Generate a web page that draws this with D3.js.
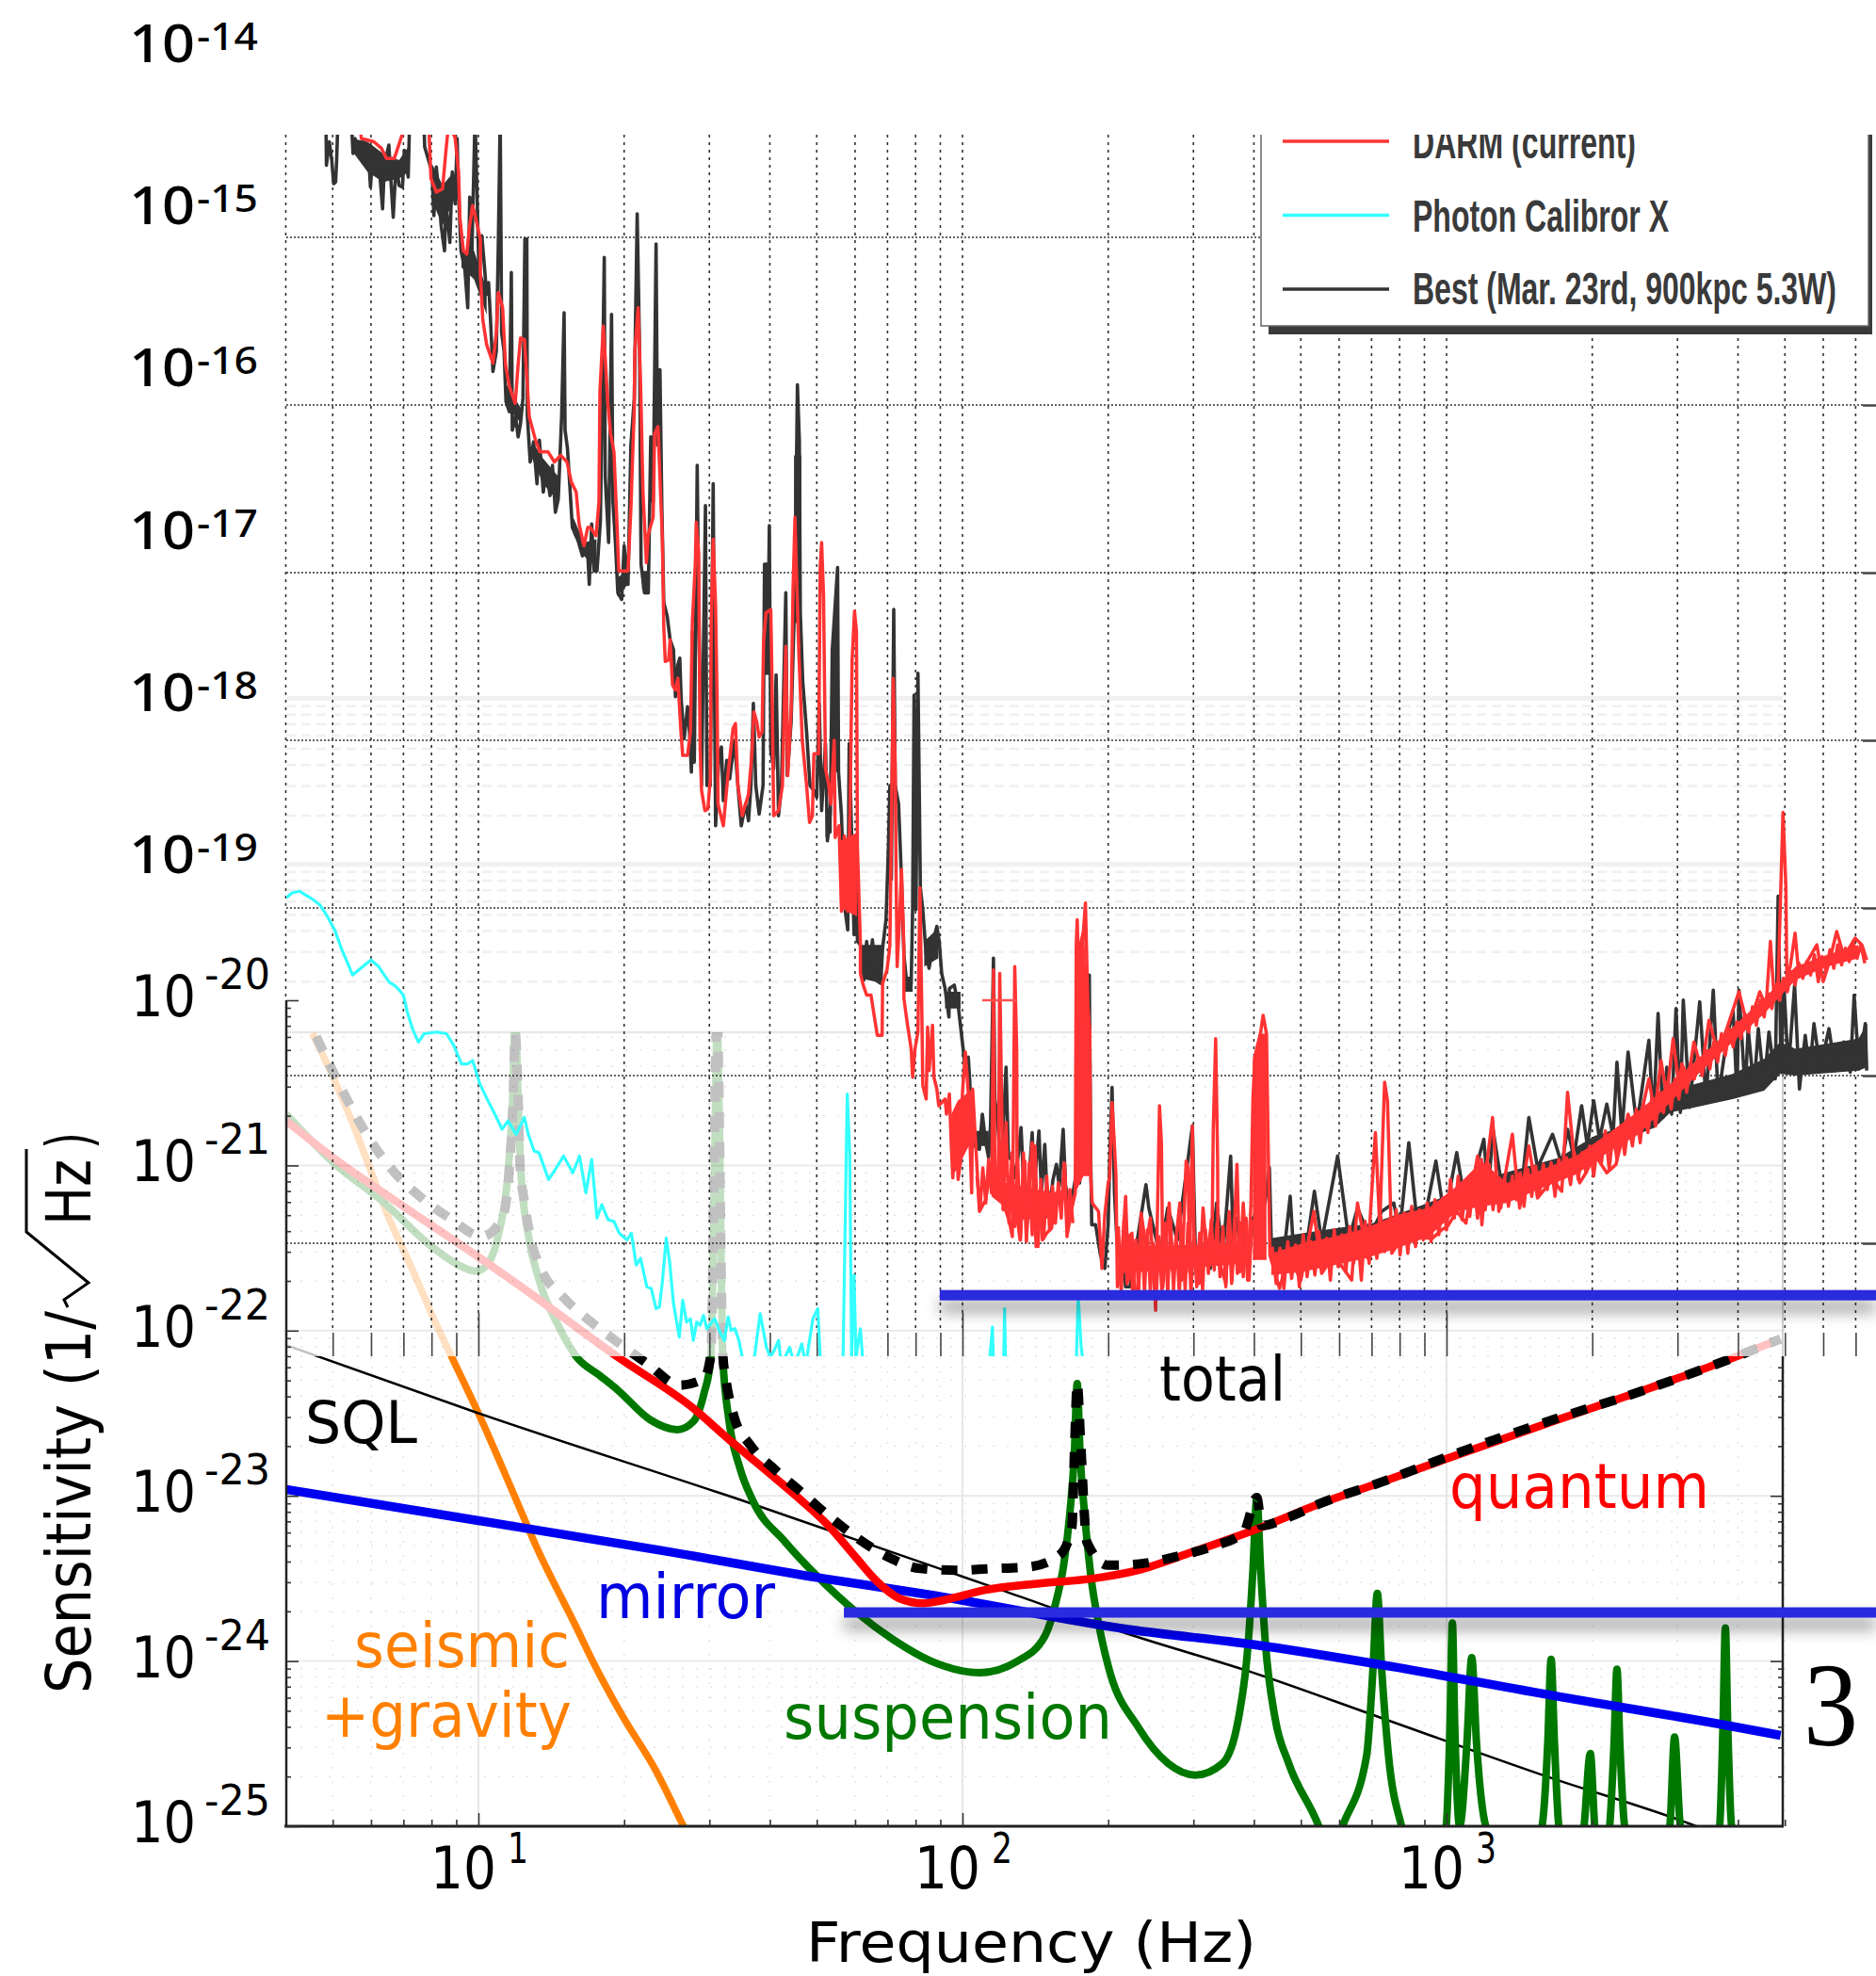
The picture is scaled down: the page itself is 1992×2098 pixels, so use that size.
<!DOCTYPE html>
<html><head><meta charset="utf-8">
<script src="https://cdn.jsdelivr.net/npm/d3@7"></script>
<style>html,body{margin:0;padding:0;background:#fff}svg{display:block}</style>
</head><body><div id="chart"></div>
<script>
// All trace rows are [log10 frequency in Hz, log10 amplitude].
const bestTrace=[[.685,-14.28],[.686,-14.57],[.692,-14.43],[.697,-14.54],[.701,-14.68],[.705,-14.67],[.707,-14.55],[.710,-14.28],[.737,-14.28],[.741,-14.50],[.745,-14.41],[.756,-14.51],[.761,-14.43],[.774,-14.56],[.777,-14.70],[.782,-14.49],[.787,-14.61],[.793,-14.50],[.802,-14.83],[.806,-14.56],[.815,-14.45],[.819,-14.65],[.824,-14.88],[.830,-14.56],[.836,-14.69],[.843,-14.70],[.847,-14.48],[.855,-14.64],[.858,-14.28],[.887,-14.28],[.889,-14.46],[.895,-14.52],[.904,-14.61],[.908,-14.87],[.913,-14.58],[.919,-14.76],[.923,-14.93],[.930,-15.08],[.933,-14.80],[.941,-15.03],[.946,-14.61],[.952,-14.80],[.956,-14.41],[.959,-14.74],[.964,-15.08],[.972,-15.19],[.978,-15.42],[.982,-14.76],[.986,-15.16],[.993,-14.28],[.996,-14.61],[1.001,-15.19],[1.007,-14.99],[1.012,-15.16],[1.017,-15.34],[1.021,-15.27],[1.025,-15.49],[1.030,-15.80],[1.037,-15.68],[1.041,-15.06],[1.045,-14.28],[1.048,-15.57],[1.053,-15.68],[1.057,-15.98],[1.064,-16.04],[1.068,-15.21],[1.070,-16.15],[1.077,-16.07],[1.082,-16.19],[1.087,-16.11],[1.092,-15.96],[1.096,-15.01],[1.100,-15.01],[1.101,-16.06],[1.107,-16.34],[1.114,-16.22],[1.121,-16.47],[1.126,-16.21],[1.134,-16.52],[1.140,-16.39],[1.148,-16.54],[1.153,-16.36],[1.159,-16.64],[1.165,-16.56],[1.172,-16.06],[1.177,-15.45],[1.179,-16.15],[1.184,-16.26],[1.189,-16.49],[1.194,-16.73],[1.205,-16.80],[1.215,-16.90],[1.225,-16.84],[1.229,-17.07],[1.234,-16.71],[1.239,-16.99],[1.245,-16.99],[1.252,-16.69],[1.260,-15.12],[1.262,-16.43],[1.269,-16.82],[1.275,-15.46],[1.278,-16.58],[1.283,-16.82],[1.288,-17.12],[1.296,-17.16],[1.301,-16.84],[1.309,-17.07],[1.315,-16.24],[1.322,-15.96],[1.328,-14.86],[1.333,-15.68],[1.336,-16.95],[1.343,-17.12],[1.351,-17.12],[1.356,-16.19],[1.361,-16.58],[1.367,-15.04],[1.370,-16.24],[1.375,-15.79],[1.379,-16.62],[1.383,-17.18],
[1.390,-17.26],[1.396,-17.40],[1.403,-17.46],[1.407,-17.74],[1.412,-17.55],[1.416,-17.51],[1.419,-17.76],[1.425,-17.99],[1.432,-17.80],[1.437,-17.99],[1.440,-18.19],[1.442,-17.35],[1.446,-18.13],[1.450,-16.95],[1.452,-16.36],[1.455,-17.20],[1.461,-18.27],[1.469,-16.60],[1.472,-18.27],[1.479,-18.27],[1.485,-16.47],[1.488,-17.80],[1.490,-18.51],[1.497,-18.08],[1.502,-18.04],[1.506,-18.36],[1.513,-18.12],[1.519,-18.23],[1.529,-18.00],[1.536,-18.27],[1.543,-18.51],[1.552,-18.38],[1.558,-18.48],[1.563,-18.27],[1.568,-17.78],[1.573,-18.27],[1.580,-18.44],[1.588,-18.27],[1.591,-16.95],[1.600,-16.95],[1.601,-16.72],[1.604,-18.06],[1.610,-18.17],[1.615,-17.61],[1.620,-18.45],[1.626,-18.27],[1.635,-17.12],[1.638,-18.21],[1.646,-17.89],[1.654,-17.09],[1.659,-15.88],[1.663,-16.21],[1.665,-17.24],[1.670,-17.65],[1.678,-17.95],[1.685,-18.27],[1.693,-18.30],[1.699,-18.34],[1.704,-17.78],[1.709,-18.42],[1.717,-18.02],[1.721,-18.60],[1.727,-18.43],[1.731,-17.46],[1.742,-16.97],[1.744,-18.19],[1.750,-18.45],[1.756,-18.98],[1.763,-19.13],[1.766,-18.02],[1.769,-18.34],[1.776,-19.16],[1.781,-18.64],[1.783,-19.20],
[1.789,-19.22],[1.796,-19.43],[1.802,-19.20],[1.808,-19.35],[1.814,-19.19],[1.821,-19.43],[1.831,-19.45],[1.835,-19.24],[1.842,-19.07],[1.847,-18.64],[1.850,-18.27],[1.853,-18.83],[1.858,-17.22],[1.861,-18.27],[1.868,-18.38],[1.874,-18.83],[1.879,-19.28],[1.886,-19.48],[1.894,-19.45],[1.897,-19.01],[1.900,-17.73],[1.904,-19.01],[1.908,-17.60],[1.913,-18.88],[1.918,-19.01],[1.925,-19.28],[1.931,-19.36],[1.941,-19.18],[1.947,-19.11],[1.952,-19.20],[1.957,-19.39],[1.964,-19.48],[1.972,-19.65],[1.973,-19.48],[1.983,-19.46],[1.991,-19.58],[1.997,-19.73],[2.004,-19.91],[2.012,-19.89],[2.015,-20.03],[2.019,-20.33],[2.025,-20.42],[2.035,-20.44],[2.041,-20.23],[2.048,-20.40],[2.054,-20.49],[2.058,-20.29],[2.064,-19.30],[2.067,-20.14],[2.074,-20.33],[2.080,-20.57],[2.090,-19.95],[2.095,-20.48],[2.103,-20.51],[2.110,-20.61],[2.121,-20.31],[2.126,-20.62],[2.134,-20.76],[2.144,-20.34],[2.148,-20.66],[2.158,-20.33],[2.163,-20.70],[2.170,-20.41],[2.174,-20.66],[2.181,-20.76],[2.187,-20.62],[2.194,-20.53],[2.200,-20.66],[2.208,-20.32],[2.213,-20.66],[2.223,-20.79],[2.233,-20.62],[2.236,-20.53],[2.242,-20.64],[2.244,-19.30],[2.252,-19.95],[2.257,-19.69],[2.262,-19.40],[2.265,-20.51],[2.267,-20.89],[2.275,-20.89],[2.285,-21.07],[2.294,-21.15],[2.301,-20.89],[2.304,-20.51],[2.309,-20.07],[2.314,-20.70],[2.319,-20.98],[2.324,-21.07],[2.330,-21.04],[2.337,-21.26],[2.346,-21.26],[2.379,-20.65],[2.385,-20.79],[2.408,-21.07],[2.424,-20.79],[2.444,-20.98],[2.475,-20.30],[2.482,-21.17],[2.502,-21.11],[2.512,-21.15],[2.525,-20.76],[2.538,-21.07],[2.554,-20.48],[2.560,-21.07],[2.567,-20.85],[2.593,-21.07],[2.600,-20.85],[2.625,-20.76],[2.634,-20.55],[2.638,-21.00],[2.651,-21.04],[2.664,-21.06],[2.677,-20.72],[2.683,-21.00],[2.696,-21.02],
[2.711,-21.01],[2.727,-20.69],[2.742,-20.99],[2.775,-20.48],[2.798,-20.98],[2.816,-20.79],[2.841,-20.96],[2.866,-20.81],[2.891,-20.76],[2.903,-20.94],[2.922,-20.40],[2.940,-20.90],[2.959,-20.79],[2.978,-20.51],[2.996,-20.85],[3.021,-20.46],[3.040,-20.79],[3.058,-20.58],[3.077,-20.38],[3.086,-20.70],[3.096,-20.32],[3.114,-20.66],[3.139,-20.58],[3.157,-20.62],[3.170,-20.25],[3.188,-20.55],[3.219,-20.35],[3.238,-20.53],[3.250,-20.32],[3.263,-20.49],[3.279,-20.18],[3.291,-20.42],[3.304,-20.15],[3.316,-20.38],[3.331,-20.17],[3.344,-20.36],[3.352,-19.92],[3.362,-20.34],[3.375,-19.86],[3.393,-20.30],[3.418,-19.79],[3.427,-20.27],[3.437,-19.63],[3.447,-20.25],[3.455,-19.95],[3.465,-20.23],[3.474,-19.60],[3.483,-20.22],[3.489,-19.55],[3.502,-20.19],[3.523,-19.56],[3.536,-20.15],[3.551,-19.49],[3.561,-20.13],[3.579,-19.78],[3.592,-19.61],[3.600,-20.12],[3.604,-19.49],[3.617,-20.10],[3.623,-19.72],[3.635,-20.08],[3.644,-19.72],[3.656,-20.06],[3.666,-19.74],[3.679,-20.02],[3.685,-18.93],[3.691,-19.97],[3.697,-19.46],[3.706,-19.97],[3.719,-19.46],[3.729,-20.08],[3.741,-19.76],[3.750,-19.98],[3.759,-19.69],[3.772,-19.96],[3.790,-19.72],[3.803,-19.97],[3.821,-19.80],[3.834,-19.98],[3.842,-19.52],[3.852,-19.96],[3.865,-19.69],[3.868,-19.97]];
// Band rows: [log10 frequency, upper edge, lower edge]; null breaks a band
const bestBand=[[.738,-14.41,-14.48],[.771,-14.43,-14.61],[.803,-14.50,-14.67],[.836,-14.54,-14.65],[.855,-14.46,-14.61],null,[.904,-14.56,-14.78],[.926,-14.69,-14.93],[.949,-14.61,-14.78],null,[.965,-15.08,-15.18],[.991,-15.08,-15.25],[1.017,-15.31,-15.46],null,[1.056,-15.87,-16.00],[1.088,-16.02,-16.11],null,[1.111,-16.22,-16.32],[1.134,-16.32,-16.47],[1.166,-16.43,-16.58],null,[1.196,-16.67,-16.77],[1.218,-16.82,-16.90],[1.244,-16.80,-16.97],null,[1.286,-17.03,-17.14],[1.309,-16.99,-17.07],null,[1.338,-16.99,-17.10],[1.351,-16.99,-17.12],null,[1.591,-16.95,-17.61],[1.603,-16.95,-17.61],null,[1.652,-16.30,-17.30],[1.667,-16.30,-17.30],null,[1.717,-18.41,-18.58],[1.730,-18.40,-18.55],null,[1.731,-17.46,-18.19],[1.744,-17.00,-18.19],null,[1.789,-19.22,-19.42],[1.835,-19.22,-19.45],null,[1.879,-19.41,-19.50],[1.897,-19.41,-19.50],null,[1.921,-19.20,-19.35],[1.950,-19.12,-19.30],null,[1.964,-19.50,-19.60],[1.996,-19.50,-19.60],null,[2.025,-20.33,-20.42],[2.054,-20.33,-20.42],null,[2.636,-20.97,-21.07],[2.748,-20.92,-21.01],[2.847,-20.88,-20.96],[2.934,-20.79,-20.88],[3.033,-20.68,-20.79],[3.120,-20.58,-20.70],[3.232,-20.49,-20.58],[3.306,-20.36,-20.49],[3.368,-20.30,-20.38],[3.430,-20.18,-20.31],[3.462,-20.10,-20.22],[3.513,-20.05,-20.19],[3.591,-19.99,-20.14],[3.656,-19.90,-20.09],[3.689,-19.80,-19.99],[3.721,-19.84,-20.00],[3.851,-19.78,-19.97],[3.869,-19.69,-19.95]];
const darmTrace=[[.755,-14.30],[.758,-14.41],[.784,-14.43],[.800,-14.47],[.810,-14.53],[.826,-14.53],[.832,-14.48],[.849,-14.33],[.897,-14.30],[.902,-14.65],[.913,-14.73],[.926,-14.71],[.933,-14.48],[.939,-14.31],[.952,-14.41],[.959,-14.61],[.962,-14.89],[.969,-15.08],[.976,-15.10],[.981,-14.95],[.988,-14.81],[.994,-14.88],[1.004,-15.01],[1.004,-15.21],[1.009,-15.49],[1.017,-15.64],[1.030,-15.75],[1.037,-15.57],[1.041,-15.33],[1.050,-15.42],[1.056,-15.76],[1.064,-15.89],[1.076,-15.99],[1.082,-15.76],[1.087,-15.60],[1.095,-15.61],[1.100,-15.83],[1.105,-16.07],[1.118,-16.21],[1.127,-16.28],[1.144,-16.28],[1.157,-16.34],[1.170,-16.30],[1.183,-16.34],[1.192,-16.46],[1.202,-16.52],[1.208,-16.71],[1.218,-16.84],[1.226,-16.73],[1.231,-16.73],[1.243,-16.78],[1.249,-16.58],[1.251,-15.92],[1.258,-15.53],[1.262,-15.72],[1.267,-15.98],[1.273,-16.17],[1.280,-16.28],[1.286,-16.69],[1.290,-16.99],[1.309,-16.99],[1.315,-16.62],[1.322,-16.02],[1.323,-15.68],[1.330,-15.42],[1.335,-15.87],[1.340,-16.52],[1.347,-16.94],[1.351,-16.77],[1.361,-16.67],[1.364,-16.17],[1.371,-16.13],[1.375,-16.43],[1.380,-16.80],[1.383,-17.33],[1.386,-17.53],[1.393,-17.52],[1.396,-17.40],[1.401,-17.67],[1.407,-17.70],[1.412,-17.63],[1.418,-17.93],[1.422,-18.09],[1.432,-18.09],[1.438,-17.95],[1.442,-17.29],[1.448,-16.95],[1.450,-16.70],[1.455,-16.88],[1.458,-18.04],[1.461,-18.30],[1.468,-18.42],[1.474,-18.41],[1.479,-18.23],[1.481,-17.29],[1.485,-16.80],[1.490,-17.20],[1.493,-17.74],[1.495,-18.38],[1.506,-18.51],[1.516,-18.19],[1.526,-17.93],[1.531,-17.90],[1.536,-18.27],[1.545,-18.45],[1.558,-18.32],[1.565,-18.08],[1.569,-17.83],[1.575,-17.89],[1.580,-17.98],[1.586,-17.95],[1.589,-17.42],[1.594,-17.24],[1.604,-17.22],[1.606,-17.55],[1.610,-18.45],[1.620,-18.42],[1.628,-18.27],[1.632,-17.78],[1.635,-17.44],[1.639,-18.21],[1.646,-17.82],[1.650,-17.09],[1.654,-16.67],[1.658,-17.10],[1.662,-17.48],[1.669,-18.00],[1.678,-18.27],[1.684,-18.49],[1.690,-18.45],[1.693,-18.08],[1.703,-18.08],[1.706,-16.97],[1.709,-16.82],[1.713,-17.14],[1.717,-18.17],[1.724,-18.27],[1.728,-18.38],[1.735,-18.00],[1.737,-18.58],[1.745,-18.51],[1.750,-19.02],[1.756,-18.57],[1.763,-19.02],[1.768,-18.36],[1.772,-17.52],[1.777,-17.23],[1.781,-17.35],[1.783,-18.64],[1.789,-19.20],
[1.789,-19.39],[1.795,-19.46],[1.802,-19.52],[1.811,-19.52],[1.818,-19.65],[1.824,-19.76],[1.834,-19.76],[1.835,-19.45],[1.844,-19.37],[1.848,-19.28],[1.850,-19.22],[1.857,-17.63],[1.861,-18.17],[1.863,-18.83],[1.865,-19.35],[1.870,-19.07],[1.874,-18.77],[1.879,-19.24],[1.879,-19.54],[1.886,-19.69],[1.894,-19.84],[1.897,-20.01],[1.902,-19.84],[1.908,-19.74],[1.912,-18.88],[1.916,-19.61],[1.918,-20.06],[1.925,-20.14],[1.928,-19.71],[1.931,-19.97],[1.938,-19.70],[1.941,-20.01],[1.947,-20.08],[1.951,-20.18],[1.964,-20.14],[1.967,-20.23],[1.973,-20.11],[1.977,-20.42],[1.980,-20.61],[1.986,-20.23],[1.991,-20.62],[1.996,-20.51],[2.000,-20.10],[2.006,-19.86],[2.012,-20.10],[2.019,-20.70],[2.021,-20.08],[2.035,-20.81],[2.048,-20.74],[2.061,-20.51],[2.064,-19.37],[2.067,-20.61],[2.074,-20.66],[2.077,-19.39],[2.084,-20.76],[2.097,-20.87],[2.103,-20.96],[2.108,-19.35],[2.112,-19.84],[2.113,-20.85],[2.119,-20.98],[2.129,-20.51],[2.132,-20.98],[2.144,-20.40],[2.152,-21.02],[2.158,-20.70],[2.165,-20.98],[2.174,-20.94],[2.184,-20.91],[2.194,-20.70],[2.207,-20.70],[2.211,-20.53],[2.217,-20.94],[2.226,-20.79],[2.233,-20.70],[2.235,-19.22],[2.237,-19.07],[2.242,-19.54],[2.246,-19.30],[2.254,-18.97],[2.259,-19.58],[2.263,-19.73],[2.265,-20.61],[2.268,-20.76],[2.281,-20.81],[2.288,-21.15],[2.294,-20.83],[2.301,-20.64],[2.304,-20.61],[2.309,-20.16],[2.314,-20.42],[2.317,-20.59],[2.320,-21.26],[2.327,-21.17],[2.337,-20.72],[2.343,-21.22],[2.350,-20.94],[2.356,-21.32],[2.362,-21.26],[2.369,-20.82],[2.379,-21.02],[2.388,-20.85],[2.398,-21.34],[2.399,-21.40],[2.407,-20.18],[2.411,-20.40],[2.414,-21.26],[2.427,-20.76],[2.434,-21.17],[2.449,-20.76],[2.453,-21.22],[2.462,-20.51],[2.466,-20.55],[2.469,-21.17],[2.475,-20.30],[2.479,-21.07],[2.489,-21.24],[2.497,-20.79],[2.505,-21.07],[2.516,-20.85],[2.518,-20.33],[2.523,-19.78],[2.527,-20.49],[2.528,-21.09],[2.544,-21.24],[2.551,-20.81],[2.557,-21.22],[2.567,-20.53],[2.573,-21.17],[2.580,-20.76],[2.589,-21.22],[2.596,-20.76],[2.600,-20.14],[2.604,-19.89],[2.615,-19.76],[2.621,-19.64],[2.628,-19.75],[2.635,-21.07],
[2.655,-21.27],[2.674,-21.07],[2.699,-21.22],[2.726,-20.81],[2.742,-21.18],[2.767,-21.07],[2.804,-21.22],[2.816,-20.76],[2.837,-21.09],[2.853,-20.34],[2.862,-20.90],[2.872,-20.04],[2.878,-20.15],[2.887,-21.06],[2.909,-20.96],[2.971,-20.97],[2.990,-20.92],[3.002,-20.90],[3.021,-20.81],[3.040,-20.88],[3.064,-20.48],[3.073,-20.89],[3.083,-20.53],[3.095,-20.25],[3.108,-20.81],[3.136,-20.35],[3.151,-20.79],[3.170,-20.42],[3.188,-20.73],[3.219,-20.62],[3.238,-20.69],[3.250,-20.10],[3.263,-20.47],[3.275,-20.64],[3.288,-20.58],[3.306,-20.47],[3.331,-20.58],[3.350,-20.53],[3.375,-20.23],[3.387,-20.36],[3.399,-20.27],[3.418,-20.02],[3.430,-20.23],[3.443,-19.91],[3.455,-20.12],[3.468,-19.78],[3.480,-20.06],[3.486,-19.93],[3.499,-20.02],[3.511,-19.80],[3.527,-19.97],[3.542,-19.67],[3.561,-19.87],[3.579,-19.72],[3.604,-19.50],[3.623,-19.72],[3.647,-19.50],[3.660,-19.59],[3.669,-19.20],[3.676,-19.50],[3.685,-19.44],[3.695,-18.43],[3.701,-18.87],[3.703,-19.41],[3.710,-19.35],[3.720,-19.15],[3.728,-19.41],[3.747,-19.31],[3.765,-19.22],[3.778,-19.44],[3.790,-19.33],[3.806,-19.14],[3.821,-19.29],[3.844,-19.18],[3.858,-19.22],[3.868,-19.31]];
// Dense jagged part of the DARM trace between the resonances
const darmFineMid=[[2.030,-20.60],[2.036,-20.80],[2.042,-20.55],[2.048,-20.76],[2.054,-20.50],[2.060,-20.70],[2.066,-20.45],[2.072,-20.72],[2.078,-20.40],[2.084,-20.80],[2.090,-20.28],[2.096,-20.88],[2.102,-20.46],[2.108,-20.90],[2.114,-20.50],[2.120,-20.98],[2.126,-20.46],[2.132,-20.99],[2.138,-20.52],[2.144,-20.95],[2.150,-20.42],[2.156,-21.02],[2.162,-20.62],[2.168,-20.97],[2.174,-20.60],[2.180,-20.92],[2.186,-20.66],[2.192,-20.88],[2.198,-20.64],[2.204,-20.85],[2.210,-20.52],[2.216,-20.96],[2.222,-20.68],[2.228,-20.88]];
const darmFineLow=[[2.322,-20.90],[2.328,-21.30],[2.334,-20.85],[2.340,-21.24],[2.346,-20.95],[2.352,-21.32],[2.358,-20.98],[2.364,-21.28],[2.370,-20.88],[2.376,-21.30],[2.382,-20.92],[2.388,-21.28],[2.394,-21.00],[2.400,-21.34],[2.406,-20.96],[2.412,-21.30],[2.418,-20.88],[2.424,-21.30],[2.430,-20.86],[2.436,-21.28],[2.442,-20.96],[2.448,-21.30],[2.454,-20.90],[2.460,-21.28],[2.466,-20.88],[2.472,-21.30],[2.478,-20.95],[2.484,-21.26],[2.490,-20.94],[2.496,-21.28],[2.502,-20.92],[2.508,-21.18],[2.514,-20.86],[2.520,-21.16],[2.526,-20.88],[2.532,-21.20],[2.538,-20.90],[2.544,-21.26],[2.550,-20.84],[2.556,-21.24],[2.562,-20.86],[2.568,-21.18],[2.574,-20.88],[2.580,-21.20],[2.586,-20.85],[2.592,-21.22],[2.598,-20.86]];
const darmFineHigh=[[2.640,-21.02],[2.648,-21.24],[2.656,-21.03],[2.664,-21.27],[2.672,-20.99],[2.680,-21.21],[2.688,-21.01],[2.696,-21.26],[2.704,-20.95],[2.712,-21.20],[2.720,-20.99],[2.728,-21.19],[2.736,-20.93],[2.744,-21.16],[2.752,-20.97],[2.760,-21.22],[2.768,-20.92],[2.776,-21.14],[2.784,-20.95],[2.792,-21.17],[2.800,-20.90],[2.808,-21.12],[2.816,-20.94],[2.824,-21.22],[2.832,-20.87],[2.840,-21.12],[2.848,-20.90],[2.856,-21.09],[2.864,-20.84],[2.872,-21.05],[2.880,-20.86],[2.888,-21.03],[2.896,-20.80],[2.904,-21.07],[2.912,-20.82],[2.920,-21.06],[2.928,-20.78],[2.936,-21.02],[2.944,-20.80],[2.952,-20.98],[2.960,-20.76],[2.968,-20.99],[2.976,-20.74],[2.984,-20.95],[2.992,-20.73],[3.000,-20.92],[3.008,-20.62],[3.016,-20.85],[3.024,-20.60],[3.032,-20.86],[3.040,-20.68],[3.048,-20.84],[3.056,-20.62],[3.064,-20.85],[3.072,-20.50],[3.080,-20.80],[3.088,-20.53],[3.096,-20.80],[3.104,-20.62],[3.112,-20.79],[3.120,-20.62],[3.128,-20.78],[3.136,-20.60],[3.144,-20.74],[3.152,-20.58],[3.160,-20.78],[3.168,-20.56],[3.176,-20.72],[3.184,-20.54],[3.192,-20.70],[3.200,-20.53],[3.208,-20.68],[3.216,-20.52],[3.224,-20.72],[3.232,-20.50],[3.240,-20.62],[3.248,-20.49],[3.256,-20.65],[3.264,-20.46],[3.272,-20.62],[3.280,-20.46],[3.288,-20.58],[3.296,-20.42],[3.304,-20.60],[3.312,-20.40],[3.320,-20.52],[3.328,-20.33],[3.336,-20.56],[3.344,-20.34],[3.352,-20.50],[3.360,-20.30],[3.368,-20.47],[3.376,-20.28],[3.384,-20.42],[3.392,-20.20],[3.400,-20.40],[3.408,-20.18],[3.416,-20.34],[3.424,-20.14],[3.432,-20.30],[3.440,-20.10],[3.448,-20.22],[3.456,-20.04],[3.464,-20.20],[3.472,-20.02],[3.480,-20.14],[3.488,-19.96],[3.496,-20.10],[3.504,-19.93],[3.512,-20.02],[3.520,-19.89],[3.528,-20.00],[3.536,-19.85],[3.544,-19.96],[3.552,-19.80],[3.560,-19.92],[3.568,-19.75],[3.576,-19.88],[3.584,-19.72],[3.592,-19.83],[3.600,-19.68],[3.608,-19.78],[3.616,-19.63],[3.624,-19.74],[3.632,-19.59],[3.640,-19.70],[3.648,-19.55],[3.656,-19.65],[3.664,-19.51],[3.672,-19.60],[3.680,-19.47],[3.688,-19.55],[3.696,-19.42],[3.704,-19.50],[3.712,-19.38],[3.720,-19.46],[3.728,-19.33],[3.736,-19.42],[3.744,-19.32],[3.752,-19.40],[3.760,-19.28],[3.768,-19.44],[3.776,-19.29],[3.784,-19.38],[3.792,-19.25],[3.800,-19.36],[3.808,-19.22],[3.816,-19.34],[3.824,-19.24],[3.832,-19.32],[3.840,-19.20],[3.848,-19.30],[3.856,-19.22],[3.864,-19.33]];
const darmBand=[[1.748,-18.60,-19.00],[1.782,-18.55,-19.05],null,[1.977,-20.23,-20.61],[1.990,-20.15,-20.55],[2.020,-20.08,-20.38],null,[2.060,-20.62,-20.72],[2.119,-20.66,-20.86],[2.190,-20.70,-20.85],null,[2.233,-19.30,-20.70],[2.250,-19.10,-20.60],[2.265,-19.90,-20.60],null,[2.327,-21.02,-21.18],[2.593,-21.00,-21.12],null,[2.600,-19.90,-21.10],[2.612,-19.75,-21.10],[2.628,-19.75,-21.10],null,[2.638,-21.06,-21.19],[2.703,-21.00,-21.17],[2.768,-20.96,-21.13],[2.833,-20.91,-21.09],[2.898,-20.83,-21.03],[2.963,-20.79,-20.96],[3.021,-20.66,-20.81],[3.073,-20.51,-20.78],[3.125,-20.64,-20.76],[3.189,-20.57,-20.68],[3.267,-20.48,-20.59],[3.332,-20.35,-20.46],[3.397,-20.21,-20.35],[3.462,-20.05,-20.16],[3.527,-19.88,-19.97],[3.591,-19.71,-19.80],[3.656,-19.54,-19.63],[3.721,-19.35,-19.43],[3.786,-19.28,-19.35],[3.851,-19.22,-19.30]];
const darmMarker=[[2.041,-19.55],[2.113,-19.55]];
const calibTrace=[[.603,-18.94],[.615,-18.91],[.630,-18.90],[.653,-18.94],[.672,-18.98],[.688,-19.05],[.703,-19.13],[.718,-19.25],[.730,-19.33],[.740,-19.40],[.757,-19.36],[.778,-19.31],[.794,-19.35],[.815,-19.44],[.830,-19.47],[.845,-19.52],[.853,-19.62],[.865,-19.73],[.876,-19.80],[.888,-19.75],[.914,-19.74],[.934,-19.75],[.949,-19.82],[.965,-19.93],[.978,-19.93],[.988,-19.91],[1.003,-20.05],[1.018,-20.14],[1.034,-20.23],[1.049,-20.32],[1.061,-20.27],[1.078,-20.35],[1.095,-20.25],[1.103,-20.35],[1.115,-20.45],[1.125,-20.46],[1.145,-20.62],[1.161,-20.55],[1.176,-20.48],[1.195,-20.58],[1.209,-20.48],[1.222,-20.70],[1.234,-20.50],[1.245,-20.85],[1.255,-20.77],[1.268,-20.86],[1.280,-20.87],[1.291,-20.94],[1.307,-20.98],[1.316,-20.94],[1.326,-21.13],[1.335,-21.09],[1.348,-21.26],[1.357,-21.27],[1.367,-21.39],[1.374,-21.38],[1.380,-21.23],[1.388,-20.97],[1.395,-21.11],[1.403,-21.36],[1.415,-21.56],[1.422,-21.34],[1.430,-21.47],[1.438,-21.45],[1.444,-21.58],[1.451,-21.47],[1.458,-21.49],[1.465,-21.43],[1.472,-21.51],[1.488,-21.45],[1.499,-21.53],[1.508,-21.58],[1.516,-21.44],[1.522,-21.52],[1.530,-21.51],[1.538,-21.58],[1.549,-21.73],[1.568,-21.73],[1.582,-21.42],[1.595,-21.62],[1.603,-21.68],[1.611,-21.64],[1.620,-21.58],[1.626,-21.73],[1.643,-21.62],[1.653,-21.73],[1.668,-21.60],[1.676,-21.73],[1.691,-21.45],[1.701,-21.39],[1.707,-21.73],[1.753,-21.73],[1.762,-20.11],[1.767,-20.46],[1.771,-21.68],[1.776,-21.19],[1.780,-21.68],[1.789,-21.51],[1.795,-21.73],[2.055,-21.73],[2.062,-21.50],[2.064,-21.73],[2.085,-21.73],[2.087,-21.39],[2.089,-21.73],[2.235,-21.73],[2.239,-21.31],[2.245,-21.61],[2.250,-21.73]];
const seismic=[[.657,-20.20],[.699,-20.46],[.741,-20.75],[.780,-21.05],[.818,-21.34],[.845,-21.51],[.880,-21.74],[.911,-21.95],[.945,-22.16],[1.0,-22.50],[1.076,-23.01],[1.120,-23.31],[1.198,-23.77],[1.243,-24.04],[1.299,-24.34],[1.366,-24.66],[1.422,-24.99],[1.444,-25.12]];
const mirror=[[.601,-22.96],[1.0,-23.15],[1.377,-23.33],[1.712,-23.50],[1.935,-23.60],[2.346,-23.81],[2.6,-23.90],[2.86,-24.02],[3.222,-24.21],[3.58,-24.39],[3.69,-24.45]];
const sql=[[.605,-22.09],[1.0,-22.50],[1.567,-23.05],[2.07,-23.56],[2.346,-23.84],[2.6,-24.07],[2.861,-24.34],[3.208,-24.70],[3.507,-24.99],[3.56,-25.05]];
const quantum=[[.603,-20.73],[.703,-20.96],[.826,-21.21],[1.003,-21.56],[1.072,-21.70],[1.288,-22.16],[1.444,-22.47],[1.522,-22.67],[1.6,-22.86],[1.668,-23.03],[1.723,-23.18],[1.779,-23.37],[1.824,-23.52],[1.869,-23.62],[1.919,-23.65],[1.963,-23.63],[2.047,-23.57],[2.159,-23.53],[2.271,-23.50],[2.363,-23.45],[2.475,-23.34],[2.6,-23.21],[2.736,-23.05],[2.872,-22.91],[2.996,-22.78],[3.219,-22.55],[3.368,-22.40],[3.542,-22.22],[3.69,-22.05]];
const suspension=[[.603,-20.69],[.703,-20.99],[.803,-21.22],[.903,-21.49],[.957,-21.60],[.995,-21.64],[1.018,-21.60],[1.041,-21.42],[1.061,-21.05],[1.071,-20.58],[1.076,-20.10],[1.082,-20.58],[1.088,-21.05],[1.103,-21.42],[1.126,-21.70],[1.165,-21.97],[1.203,-22.16],[1.250,-22.27],[1.288,-22.36],[1.355,-22.54],[1.411,-22.60],[1.444,-22.55],[1.466,-22.38],[1.480,-22.17],[1.490,-20.6],[1.493,-20.10],[1.497,-20.6],[1.505,-22.17],[1.517,-22.53],[1.540,-22.83],[1.567,-23.03],[1.634,-23.28],[1.701,-23.49],[1.779,-23.70],[1.857,-23.87],[1.935,-24.00],[2.036,-24.07],[2.114,-24.00],[2.17,-23.85],[2.195,-23.62],[2.209,-23.42],[2.222,-23.10],[2.231,-22.75],[2.237,-22.32],[2.243,-22.75],[2.252,-23.10],[2.265,-23.48],[2.283,-23.80],[2.301,-24.03],[2.363,-24.40],[2.425,-24.62],[2.481,-24.69],[2.537,-24.62],[2.570,-24.35],[2.590,-23.90],[2.600,-23.45],[2.608,-23.01],[2.616,-23.45],[2.626,-23.90],[2.646,-24.35],[2.674,-24.62],[2.736,-25.0],[2.76,-25.2],[2.785,-25.0],[2.835,-24.57],[2.848,-24.05],[2.857,-23.59],[2.866,-24.05],[2.880,-24.57],[2.907,-25.0],[2.95,-25.3],[2.999,-25.0],[3.007,-24.4],[3.012,-23.77],[3.017,-24.4],[3.027,-25.0],[3.042,-24.5],[3.052,-23.98],[3.062,-24.5],[3.081,-25.0],[3.14,-25.3],[3.197,-25.0],[3.209,-24.5],[3.216,-23.99],[3.223,-24.5],[3.232,-25.0],[3.26,-25.3],[3.284,-25.0],[3.297,-24.56],[3.306,-25.0],[3.32,-25.3],[3.337,-25.0],[3.346,-24.5],[3.352,-24.05],[3.358,-24.5],[3.368,-25.0],[3.41,-25.3],[3.461,-25.0],[3.471,-24.46],[3.483,-25.0],[3.52,-25.3],[3.564,-25.0],[3.571,-24.4],[3.576,-23.80],[3.581,-24.4],[3.589,-25.0],[3.65,-25.3]];
const total=[[.665,-20.22],[.711,-20.50],[.745,-20.69],[.784,-20.88],[.826,-21.04],[.884,-21.20],[.941,-21.32],[1.007,-21.43],[1.049,-21.32],[1.062,-21.09],[1.072,-20.58],[1.076,-20.20],[1.082,-20.58],[1.086,-21.00],[1.095,-21.22],[1.107,-21.43],[1.130,-21.63],[1.176,-21.80],[1.234,-21.95],[1.292,-22.08],[1.349,-22.20],[1.416,-22.33],[1.466,-22.29],[1.480,-22.15],[1.493,-20.10],[1.505,-22.15],[1.511,-22.29],[1.528,-22.52],[1.561,-22.69],[1.612,-22.84],[1.668,-22.98],[1.723,-23.12],[1.785,-23.26],[1.846,-23.37],[1.913,-23.44],[1.986,-23.45],[2.064,-23.44],[2.136,-23.43],[2.200,-23.36],[2.226,-23.19],[2.232,-22.67],[2.237,-22.32],[2.244,-22.67],[2.257,-23.28],[2.301,-23.42],[2.370,-23.41],[2.438,-23.37],[2.512,-23.31],[2.581,-23.22],[2.608,-23.01],[2.618,-23.18],[2.674,-23.13],[2.736,-23.05],[2.872,-22.91],[2.996,-22.77],[3.219,-22.54],[3.368,-22.40],[3.542,-22.22],[3.69,-22.05]];
const floorBars=[[1.953,-21.31,"upper"],[1.755,-23.706,"lower"]];
const upperGridExponents=[-15,-16,-17,-18,-19,-20,-21];
const lowerExponents=[-25,-24,-23,-22,-21,-20];
const ghostDecades=[-17.75,-18.74];
const minorMultiples=[2,3,4,5,6,7,8,9];
const upperTickLabels=[-14,-15,-16,-17,-18,-19];
const xTickLabels=[1,2,3];
const legendRows=[["DARM (current)","#ff3333",237],["Photon Calibror X","#33ffff",272],["Best (Mar. 23rd, 900kpc 5.3W)","#333333",450]];

const W=1992,H=2098;
const x=d3.scaleLog().domain([10,1000]).range([508,1536]);
const yU=d3.scaleLog().domain([1e-15,1e-22]).range([252,1498]);
const yL=d3.scaleLog().domain([1e-20,1e-25]).range([1062,1939]);
const labelY=d3.scaleLinear().domain([-14,-19]).range([66,927]);
const svg=d3.select("#chart").append("svg").attr("width",W).attr("height",H).attr("viewBox",`0 0 ${W} ${H}`);
const defs=svg.append("defs");
const clip=(id,a,b,c,d)=>defs.append("clipPath").attr("id",id).append("rect").attr("x",a).attr("y",b).attr("width",c-a).attr("height",d-b);
clip("cUpper",304,143,W,1440);
clip("cFaded",304,1096,1893,1440);
clip("cFull",304,1440,1893,1939);
clip("cLegend",1300,143,W,400);
const f=defs.append("filter").attr("id","barShadow").attr("x","-5%").attr("y","-200%").attr("width","110%").attr("height","700%");
f.append("feDropShadow").attr("dx",0).attr("dy",12).attr("stdDeviation",8).attr("flood-color","#000").attr("flood-opacity",.42);

const line=yS=>d3.line().x(d=>x(10**d[0])).y(d=>yS(10**d[1]));
const smooth=yS=>d3.line().x(d=>x(10**d[0])).y(d=>yS(10**d[1])).curve(d3.curveMonotoneX);
const band=yS=>d3.area().defined(d=>d).x(d=>x(10**d[0])).y0(d=>yS(10**d[1])).y1(d=>yS(10**d[2]));
const freqs=[];for(const dec of [1,10,100,1000])for(const m of [1,2,3,4,5,6,7,8,9]){const v=dec*m;if(v>=4&&v<=7000)freqs.push(v);}
const freqsL=freqs.filter(v=>v<=5000);
const decades=[10,100,1000];

// ghost grid left under the upper plot
const ghost=svg.append("g");
ghostDecades.forEach(e=>{
  ghost.append("line").attr("x1",304).attr("x2",1893).attr("y1",yU(10**e)).attr("y2",yU(10**e)).attr("stroke","#f1f1f1").attr("stroke-width",5);
  minorMultiples.forEach(m=>{const yy=yU(10**(e-1)*m);
    ghost.append("line").attr("x1",304).attr("x2",1893).attr("y1",yy).attr("y2",yy).attr("stroke","#f0f0f0").attr("stroke-width",2.5).attr("stroke-dasharray","10 6");});
});

// lower plot grid
const lowGrid=svg.append("g");
lowerExponents.filter(e=>e<-20).forEach(e=>{
  lowGrid.append("line").attr("x1",304).attr("x2",1893).attr("y1",yL(10**e)).attr("y2",yL(10**e)).attr("stroke","#e9e9e9").attr("stroke-width",2);
  minorMultiples.forEach(m=>{const yy=yL(10**e*m); if(yy<1096)return;
    lowGrid.append("line").attr("x1",304).attr("x2",1893).attr("y1",yy).attr("y2",yy).attr("stroke","#e4e4e4").attr("stroke-width",1.5).attr("stroke-dasharray","2 13");});
});
lowGrid.append("line").attr("x1",304).attr("x2",1893).attr("y1",1096).attr("y2",1096).attr("stroke","#e8e8e8").attr("stroke-width",2.5);
freqsL.forEach(v=>{
  const dec=decades.includes(v);
  lowGrid.append("line").attr("x1",x(v)).attr("x2",x(v)).attr("y1",1096).attr("y2",1939).attr("stroke",dec?"#e6e6e6":"#e4e4e4").attr("stroke-width",dec?2:1.5).attr("stroke-dasharray",dec?null:"2 13");
});
lowGrid.append("line").attr("x1",1893).attr("x2",1893).attr("y1",1096).attr("y2",1440).attr("stroke","#d0d0d0").attr("stroke-width",2);

// lower plot curves
const curveSet=(g)=>{
  g.append("path").attr("d",smooth(yL)(seismic)).attr("fill","none").attr("stroke","#ff8000").attr("stroke-width",7.5);
  g.append("path").attr("d",smooth(yL)(sql)).attr("fill","none").attr("stroke","#000").attr("stroke-width",2.5);
  g.append("path").attr("d",smooth(yL)(suspension)).attr("fill","none").attr("stroke","#007800").attr("stroke-width",8).attr("stroke-linejoin","round");
  g.append("path").attr("d",smooth(yL)(mirror)).attr("fill","none").attr("stroke","#0000f0").attr("stroke-width",9.5);
  g.append("path").attr("d",smooth(yL)(quantum)).attr("fill","none").attr("stroke","#ff0000").attr("stroke-width",8.5);
  g.append("path").attr("d",smooth(yL)(total)).attr("fill","none").attr("stroke","#000").attr("stroke-width",10).attr("stroke-dasharray","17 15");
};
curveSet(svg.append("g").attr("clip-path","url(#cFaded)").attr("opacity",.24));

// upper grid
const upGrid=svg.append("g");
freqs.forEach(v=>{
  upGrid.append("line").attr("x1",x(v)).attr("x2",x(v)).attr("y1",143).attr("y2",v===4?1062:1415).attr("stroke","#333").attr("stroke-width",1.6).attr("stroke-dasharray","3 5");
});
upperGridExponents.forEach(e=>{
  upGrid.append("line").attr("x1",304).attr("x2",1980).attr("y1",yU(10**e)).attr("y2",yU(10**e)).attr("stroke","#333").attr("stroke-width",1.7).attr("stroke-dasharray","2 2");
});
const upTicks=svg.append("g").attr("transform","translate(0,1440)")
  .call(d3.axisTop(x).tickValues(freqs.filter(v=>v>4&&!decades.includes(v))).tickSize(25).tickFormat(""));
upTicks.select(".domain").remove();upTicks.selectAll("line").attr("stroke","#444").attr("stroke-width",1.6);
const upTicks2=svg.append("g").attr("transform","translate(0,1440)")
  .call(d3.axisTop(x).tickValues(decades).tickSize(46).tickFormat(""));
upTicks2.select(".domain").remove();upTicks2.selectAll("line").attr("stroke","#444").attr("stroke-width",1.6);
const upRight=svg.append("g").attr("transform","translate(1992,0)")
  .call(d3.axisLeft(yU).tickValues(upperGridExponents.slice(1).map(e=>10**e)).tickSize(14).tickFormat(""));
upRight.select(".domain").remove();upRight.selectAll("line").attr("stroke","#444").attr("stroke-width",2.5);

// upper traces
const up=svg.append("g").attr("clip-path","url(#cUpper)");
up.append("path").attr("d",band(yU)(bestBand)).attr("fill","#333");
up.append("path").attr("d",line(yU)(bestTrace)).attr("fill","none").attr("stroke","#333").attr("stroke-width",3.6).attr("stroke-linejoin","round");
up.append("path").attr("d",line(yU)(calibTrace)).attr("fill","none").attr("stroke","#33ffff").attr("stroke-width",3.2).attr("stroke-linejoin","round");
up.append("path").attr("d",band(yU)(darmBand)).attr("fill","#ff3333");
[darmTrace,darmFineMid,darmFineLow,darmFineHigh].forEach(t=>
  up.append("path").attr("d",line(yU)(t)).attr("fill","none").attr("stroke","#ff3333").attr("stroke-width",3.5).attr("stroke-linejoin","round"));
up.append("path").attr("d",line(yU)(darmMarker)).attr("fill","none").attr("stroke","#ff5050").attr("stroke-width",2.5);

// legend
const leg=svg.append("g").attr("clip-path","url(#cLegend)");
leg.append("rect").attr("x",1347).attr("y",100).attr("width",641).attr("height",255).attr("fill","#3a3a3a");
leg.append("rect").attr("x",1339).attr("y",100).attr("width",645).attr("height",246).attr("fill","#fff").attr("stroke","#666").attr("stroke-width",1.5);
const fit=(g,opt)=>{
  const t=g.append("text").attr("x",opt.x).attr("y",opt.y).text(opt.text)
    .attr("font-family",opt.family||"'DejaVu Sans'").attr("font-size",opt.size).attr("fill",opt.fill||"#000")
    .attr("textLength",opt.width).attr("lengthAdjust","spacingAndGlyphs");
  if(opt.weight)t.attr("font-weight",opt.weight);
  if(opt.rotate)t.attr("transform",`rotate(${opt.rotate} ${opt.x} ${opt.y})`);
  return t;
};
legendRows.forEach((r,i)=>{
  const ly=150+i*78.5;
  leg.append("line").attr("x1",1362).attr("x2",1475).attr("y1",ly).attr("y2",ly).attr("stroke",r[1]).attr("stroke-width",3.5);
  fit(leg,{x:1500,y:168+i*77.5,text:r[0],size:48,width:r[2],fill:"#3a3a3a",family:"'Liberation Sans'",weight:700});
});

// lower plot at full strength
curveSet(svg.append("g").attr("clip-path","url(#cFull)"));

// lower axes
svg.append("line").attr("x1",304).attr("x2",304).attr("y1",1062).attr("y2",1939).attr("stroke","#222").attr("stroke-width",2.5);
svg.append("line").attr("x1",302).attr("x2",1894).attr("y1",1939).attr("y2",1939).attr("stroke","#222").attr("stroke-width",3);
svg.append("line").attr("x1",1893).attr("x2",1893).attr("y1",1440).attr("y2",1939).attr("stroke","#222").attr("stroke-width",2.5);
const minorY=[];lowerExponents.filter(e=>e<-20).forEach(e=>minorMultiples.forEach(m=>minorY.push(10**e*m)));
const styleAxis=g=>{g.select(".domain").remove();g.selectAll("line").attr("stroke","#333").attr("stroke-width",1.6);};
svg.append("g").attr("transform","translate(304,0)").call(d3.axisRight(yL).tickValues(minorY).tickSize(5).tickFormat("")).call(styleAxis);
svg.append("g").attr("transform","translate(304,0)").call(d3.axisRight(yL).tickValues(lowerExponents.map(e=>10**e)).tickSize(13).tickFormat("")).call(styleAxis);
svg.append("g").attr("transform","translate(1893,0)").call(d3.axisLeft(yL).tickValues(minorY.filter(v=>yL(v)>1440)).tickSize(5).tickFormat("")).call(styleAxis);
svg.append("g").attr("transform","translate(1893,0)").call(d3.axisLeft(yL).tickValues(lowerExponents.filter(e=>e>-25&&e<-22).map(e=>10**e)).tickSize(13).tickFormat("")).call(styleAxis);
svg.append("g").attr("transform","translate(0,1939)").call(d3.axisTop(x).tickValues(freqsL.filter(v=>v>4&&!decades.includes(v))).tickSize(7).tickFormat("")).call(styleAxis);
svg.append("g").attr("transform","translate(0,1939)").call(d3.axisTop(x).tickValues(decades).tickSize(14).tickFormat("")).call(styleAxis);

// covering bars
floorBars.forEach(b=>{
  const yy=(b[2]==="upper"?yU:yL)(10**b[1]);
  svg.append("rect").attr("x",x(10**b[0])).attr("y",yy-5.5).attr("width",W-x(10**b[0])).attr("height",11).attr("fill","#2b2bde").attr("filter","url(#barShadow)");
});

// annotations
const ann=svg.append("g");
fit(ann,{x:324,y:1532,text:"SQL",size:62,width:119});
fit(ann,{x:633,y:1718,text:"mirror",size:66,width:190,fill:"#0000e0"});
fit(ann,{x:376,y:1770,text:"seismic",size:66,width:229,fill:"#ff8000"});
fit(ann,{x:341,y:1844,text:"+gravity",size:66,width:266,fill:"#ff8000"});
fit(ann,{x:832,y:1846,text:"suspension",size:66,width:349,fill:"#007800"});
fit(ann,{x:1231,y:1487,text:"total",size:66,width:134});
fit(ann,{x:1539,y:1601,text:"quantum",size:66,width:276,fill:"#ff0000"});
fit(ann,{x:1915,y:1853,text:"3",size:126,width:58,family:"'Liberation Serif'"});

// tick labels
upperTickLabels.forEach(e=>{
  const by=labelY(e);
  fit(ann,{x:137,y:by,text:"10",size:56,width:70,family:"'Noto Sans'",weight:500});
  fit(ann,{x:209,y:by-13,text:String(e),size:40,width:65,family:"'Noto Sans'",weight:500});
});
lowerExponents.forEach(e=>{
  const by=yL(10**e)+17;
  fit(ann,{x:139,y:by,text:"10",size:60,width:69});
  fit(ann,{x:217,y:by-29,text:String(e),size:44,width:70});
});
xTickLabels.forEach(p=>{
  const px=x(10**p);
  fit(ann,{x:px-51,y:2005,text:"10",size:62,width:70});
  fit(ann,{x:px+31,y:1978,text:String(p),size:44,width:22});
});

// axis titles
fit(ann,{x:856,y:2083,text:"Frequency (Hz)",size:58,width:478});
fit(ann,{x:96,y:1798,text:"Sensitivity (1/",size:66,width:406,rotate:-90});
fit(ann,{x:96,y:1301,text:"Hz",size:66,width:70,rotate:-90});
fit(ann,{x:96,y:1220,text:")",size:66,width:18,rotate:-90});
const rad=d3.path();rad.moveTo(72,1388);rad.lineTo(68,1380);rad.lineTo(94,1362);rad.lineTo(28,1308);rad.lineTo(28,1220);
ann.append("path").attr("d",rad.toString()).attr("fill","none").attr("stroke","#000").attr("stroke-width",3);
</script></body></html>
